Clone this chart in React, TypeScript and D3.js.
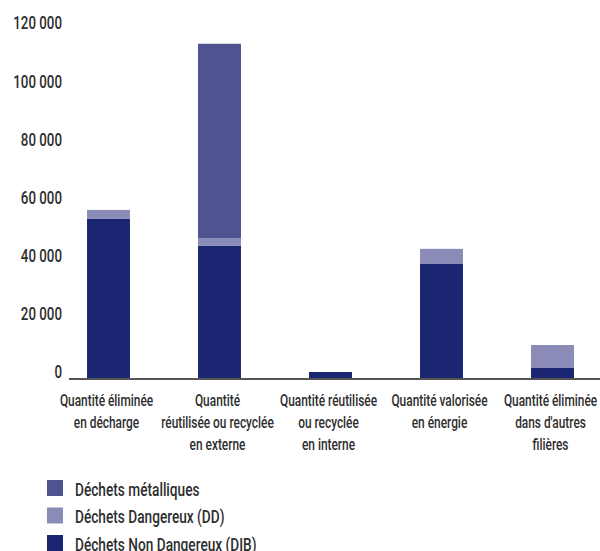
import React from "react";
import * as d3 from "d3";

// Waste quantities by destination (tonnes)
const categories = [
  ["Quantité éliminée", "en décharge"],
  ["Quantité", "réutilisée ou recyclée", "en externe"],
  ["Quantité réutilisée", "ou recyclée", "en interne"],
  ["Quantité valorisée", "en énergie"],
  ["Quantité éliminée", "dans d'autres", "filières"],
];
const dib = [55100, 45800, 2400, 39600, 3800];
const dd = [3100, 2700, 0, 5200, 7900];
const metal = [0, 66900, 0, 0, 0];
const yTicks = [0, 20000, 40000, 60000, 80000, 100000, 120000];

const seriesKeys = ["dib", "dd", "metal"];
const colors: Record<string, string> = {
  dib: "#1A2672",
  dd: "#8B8BB8",
  metal: "#4F5490",
};
const legendItems = [
  { key: "metal", label: "Déchets métalliques" },
  { key: "dd", label: "Déchets Dangereux (DD)" },
  { key: "dib", label: "Déchets Non Dangereux (DIB)" },
];

const FONT = "Roboto, 'DejaVu Sans', sans-serif";
const TEXT = "#2e2e2e";

// Condensed text: horizontally squeezed Roboto
function CText({
  x,
  y,
  sx,
  size,
  anchor = "start",
  children,
}: {
  x: number;
  y: number;
  sx: number;
  size: number;
  anchor?: "start" | "middle" | "end";
  children: React.ReactNode;
}) {
  return (
    <text
      transform={`translate(${x},${y}) scale(${sx},1)`}
      textAnchor={anchor}
      fontSize={size}
      fontWeight={500}
      fill={TEXT}
    >
      {children}
    </text>
  );
}

export default function App() {
  const width = 600;
  const height = 551;

  const rows = categories.map((c, i) => ({
    idx: i,
    dib: dib[i],
    dd: dd[i],
    metal: metal[i],
  }));
  const stacked = d3.stack<any>().keys(seriesKeys)(rows);

  const x = d3
    .scaleBand<number>()
    .domain(rows.map((r) => r.idx))
    .range([53, 608])
    .paddingInner(0.613)
    .paddingOuter(0.3065);
  const y = d3.scaleLinear().domain([0, 120000]).range([379, 30.4]);

  const fmt = (v: number) => d3.format(",")(v).replace(/,/g, " ");
  const cx = (i: number) => (x(i) as number) + x.bandwidth() / 2;

  return (
    <svg
      width={width}
      height={height}
      style={{ position: "absolute", left: 0, top: 0, background: "#fff" }}
      fontFamily={FONT}
    >
      {/* y tick labels */}
      {yTicks.map((t) => (
        <CText key={t} x={62} y={y(t) - 1} sx={0.74} size={18} anchor="end">
          {fmt(t)}
        </CText>
      ))}

      {/* stacked bars */}
      {stacked.map((s) => (
        <g key={s.key} fill={colors[s.key]}>
          {s.map((d, i) =>
            d[1] - d[0] > 0 ? (
              <rect
                key={i}
                x={x(i)}
                width={x.bandwidth()}
                y={y(d[1])}
                height={y(d[0]) - y(d[1])}
              />
            ) : null
          )}
        </g>
      ))}

      {/* baseline */}
      <line x1={69} x2={600} y1={y(0)} y2={y(0)} stroke="#555" strokeWidth={2} />

      {/* category labels */}
      {categories.map((lines, i) =>
        lines.map((l, j) => (
          <CText key={`${i}-${j}`} x={cx(i) - 2} y={406 + j * 22} sx={0.7} size={17} anchor="middle">
            {l}
          </CText>
        ))
      )}

      {/* legend */}
      {legendItems.map((it, i) => (
        <g key={it.key} transform={`translate(47, ${480 + i * 27.5})`}>
          <rect width={16} height={16} fill={colors[it.key]} />
          <CText x={28} y={15.5} sx={0.76} size={18}>
            {it.label}
          </CText>
        </g>
      ))}
    </svg>
  );
}
